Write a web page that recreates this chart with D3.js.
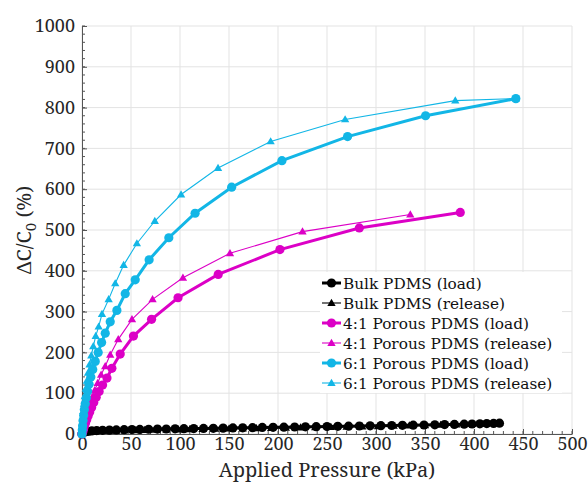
<!DOCTYPE html>
<html>
<head>
<meta charset="utf-8">
<script src="https://cdn.jsdelivr.net/npm/d3@7"></script>
<style>
  body { margin: 0; background: #fff; }
</style>
</head>
<body>
<div id="chart"></div>
<script>
const width = 588;
const height = 484;
const serif = "\"Noto Serif\"";
const legendFont = "\"DejaVu Serif\"";

// warm the faces up before drawing
const ctx = document.createElement("canvas").getContext("2d");
[serif, legendFont].forEach(f => {
  ctx.font = "20px " + f;
  ctx.measureText("Applied Pressure 0123");
});

// Bulk PDMS
const bulkLoadX = [0, 1, 3, 6, 10, 15, 21, 28, 35, 43, 51, 59, 68, 77, 86, 95, 104, 114, 124, 134, 144, 154, 164, 174, 184, 195, 206, 217, 228, 239, 250, 261, 272, 283, 294, 305, 316, 327, 338, 349, 360, 370, 380, 390, 398, 406, 413, 420, 426];
const bulkLoadY = [0, 3, 5, 6.5, 7.5, 8.5, 9, 9.5, 10, 10.5, 11, 11.3, 11.7, 12, 12.3, 12.6, 13, 13.3, 13.7, 14, 14.4, 14.8, 15.2, 15.6, 16, 16.4, 16.8, 17.2, 17.6, 18, 18.4, 18.8, 19.2, 19.6, 20, 20.4, 20.8, 21.2, 21.6, 22, 22.5, 23, 23.5, 24, 24.5, 25, 25.5, 26, 26.5];
const bulkReleaseX = [0, 2, 5, 9, 14, 20, 27, 35, 44, 54, 64, 75, 86, 98, 110, 123, 136, 150, 164, 178, 193, 208, 223, 238, 254, 270, 286, 302, 318, 334, 350, 366, 382, 398, 412, 426];
const bulkReleaseY = [0, 2, 3.5, 5, 6, 7, 7.5, 8, 8.5, 9, 9.5, 10, 10.5, 11, 11.5, 12, 12.5, 13, 13.5, 14, 14.5, 15, 15.5, 16, 16.8, 17.5, 18.2, 19, 19.8, 20.5, 21.3, 22.2, 23, 24, 25, 26.5];

// 4:1 Porous PDMS
const p41LoadX = [0, 0.5, 1, 1.7, 2.6, 3.6, 4.8, 6.2, 7.9, 9.8, 12, 14.5, 17.5, 21, 25.5, 30.5, 39, 52.5, 71, 98, 139, 202, 283, 386];
const p41LoadY = [0, 4, 8, 13, 20, 27, 35, 44, 54, 65, 77, 90, 104, 120, 137, 161, 196, 240, 281, 334, 391, 452, 505, 543];
const p41ReleaseX = [0, 0.4, 1, 1.7, 2.6, 3.7, 5, 6.6, 8.4, 10.5, 13, 16, 19.5, 23.7, 28.8, 37, 51, 72, 103, 151, 225, 335];
const p41ReleaseY = [0, 7, 14, 22, 31, 41, 52, 64, 77, 91, 107, 125, 145, 166, 194, 232, 281, 330, 383, 443, 496, 538];

// 6:1 Porous PDMS
const p61LoadX = [0, 0.3, 0.6, 1.1, 1.7, 2.4, 3.3, 4.4, 5.7, 7.2, 9, 11, 13.5, 16.5, 20, 23.7, 28.8, 35.6, 44.1, 54.3, 68.5, 88.6, 115.4, 152.7, 204, 271, 350.6, 442.7];
const p61LoadY = [0, 10, 20, 33, 46, 60, 74, 89, 105, 122, 140, 158, 178, 200, 224, 247, 275, 303, 344, 378, 427, 481, 541, 605, 670, 729, 780, 822];
const p61ReleaseX = [0, 0.3, 0.7, 1.3, 2, 2.8, 3.8, 4.9, 6.2, 7.7, 9.5, 11.5, 14, 17, 20.4, 27.2, 33.9, 42.5, 56, 74.3, 101.1, 138.8, 192.5, 268.5, 380.9, 442.7];
const p61ReleaseY = [0, 20, 38, 56, 74, 92, 111, 130, 150, 170, 192, 215, 240, 263, 294, 330, 369, 414, 467, 522, 587, 652, 717, 771, 817, 822];

const xTicks = [0, 50, 100, 150, 200, 250, 300, 350, 400, 450, 500];
const yTicks = [0, 100, 200, 300, 400, 500, 600, 700, 800, 900, 1000];

const series = [
  { name: "Bulk PDMS (load)", x: bulkLoadX, y: bulkLoadY, color: "#000000", marker: "circle", thick: true },
  { name: "Bulk PDMS (release)", x: bulkReleaseX, y: bulkReleaseY, color: "#000000", marker: "triangle", thick: false },
  { name: "4:1 Porous PDMS (load)", x: p41LoadX, y: p41LoadY, color: "#dc00c6", marker: "circle", thick: true },
  { name: "4:1 Porous PDMS (release)", x: p41ReleaseX, y: p41ReleaseY, color: "#dc00c6", marker: "triangle", thick: false },
  { name: "6:1 Porous PDMS (load)", x: p61LoadX, y: p61LoadY, color: "#12b6e6", marker: "circle", thick: true },
  { name: "6:1 Porous PDMS (release)", x: p61ReleaseX, y: p61ReleaseY, color: "#12b6e6", marker: "triangle", thick: false }
];

const margin = { top: 26, right: 16, bottom: 50, left: 82 };

const x = d3.scaleLinear().domain([0, 500]).range([margin.left, width - margin.right]);
const y = d3.scaleLinear().domain([0, 1000]).range([height - margin.bottom, margin.top]);

const svg = d3.select("#chart").append("svg")
    .attr("width", width)
    .attr("height", height)
    .style("font-family", serif);

// grid
svg.append("g")
  .selectAll("line")
  .data(xTicks)
  .join("line")
    .attr("x1", d => x(d)).attr("x2", d => x(d))
    .attr("y1", y(0)).attr("y2", y(1000))
    .attr("stroke", "#e3e3e3").attr("stroke-width", 1);

svg.append("g")
  .selectAll("line")
  .data(yTicks)
  .join("line")
    .attr("x1", x(0)).attr("x2", x(500))
    .attr("y1", d => y(d)).attr("y2", d => y(d))
    .attr("stroke", "#e3e3e3").attr("stroke-width", 1);

// axes (ticks inside, MATLAB style)
const xAxis = svg.append("g")
    .attr("transform", `translate(0,${y(0)})`)
    .call(d3.axisBottom(x).tickValues(xTicks).tickFormat(d3.format("d"))
      .tickSizeInner(-5).tickSizeOuter(0).tickPadding(3));
xAxis.append("g").selectAll("line")
  .data(d3.range(0, 501, 10))
  .join("line")
    .attr("x1", d => x(d)).attr("x2", d => x(d))
    .attr("y1", 0).attr("y2", -3)
    .attr("stroke", "#555");

const yAxis = svg.append("g")
    .attr("transform", `translate(${x(0)},0)`)
    .call(d3.axisLeft(y).tickValues(yTicks).tickFormat(d3.format("d"))
      .tickSizeInner(-5).tickSizeOuter(0).tickPadding(7));
yAxis.append("g").selectAll("line")
  .data(d3.range(0, 1001, 20))
  .join("line")
    .attr("x1", 0).attr("x2", 3)
    .attr("y1", d => y(d)).attr("y2", d => y(d))
    .attr("stroke", "#555");

svg.selectAll(".domain").attr("stroke", "#555");
svg.selectAll(".tick line").attr("stroke", "#555");
svg.selectAll(".tick text")
    .attr("fill", "#262626")
    .style("font-size", "18px");

// axis titles
svg.append("text")
    .attr("x", (x(0) + x(500)) / 2)
    .attr("y", 477)
    .attr("text-anchor", "middle")
    .attr("fill", "#262626")
    .style("font-size", "20px")
    .text("Applied Pressure (kPa)");

const yTitle = svg.append("text")
    .attr("transform", `translate(31,${(y(0) + y(1000)) / 2}) rotate(-90)`)
    .attr("text-anchor", "middle")
    .attr("fill", "#262626")
    .style("font-size", "20px");
yTitle.append("tspan").text("ΔC/C");
yTitle.append("tspan").attr("dy", 5).style("font-size", "15px").text("0");
yTitle.append("tspan").attr("dy", -5).text(" (%)");

svg.selectAll("text").style("font-family", serif);

// series
const line = d3.line().x(d => x(d[0])).y(d => y(d[1]));
const tri = d3.symbol().type(d3.symbolTriangle);

function drawMarker(g, s, px, py) {
  if (s.marker === "circle") {
    g.append("circle").attr("cx", px).attr("cy", py).attr("r", 4.6)
      .attr("fill", s.color);
  } else {
    g.append("path").attr("d", tri.size(30)()).attr("transform", `translate(${px},${py + 0.5})`)
      .attr("fill", s.color);
  }
}

const plot = svg.append("g");
series.forEach(s => {
  const pts = s.x.map((v, i) => [v, s.y[i]]);
  const g = plot.append("g");
  g.append("path")
    .datum(pts)
    .attr("d", line)
    .attr("fill", "none")
    .attr("stroke", s.color)
    .attr("stroke-width", s.thick ? 3 : 1.1);
  pts.forEach(p => drawMarker(g, s, x(p[0]), y(p[1])));
});

// legend
const legend = svg.append("g");
legend.append("rect")
    .attr("x", 320).attr("y", 272)
    .attr("width", 242).attr("height", 121)
    .attr("fill", "#fff");
series.forEach((s, i) => {
  const ly = 283 + i * 20;
  const g = legend.append("g");
  g.append("line")
    .attr("x1", 322).attr("x2", 341)
    .attr("y1", ly).attr("y2", ly)
    .attr("stroke", s.color)
    .attr("stroke-width", s.thick ? 3 : 1.1);
  drawMarker(g, s, 331.5, ly);
  g.append("text")
    .attr("x", 343).attr("y", ly + 5.5)
    .attr("fill", "#111")
    .style("font-family", legendFont)
    .style("font-size", "15.3px")
    .text(s.name);
});
</script>
</body>
</html>
